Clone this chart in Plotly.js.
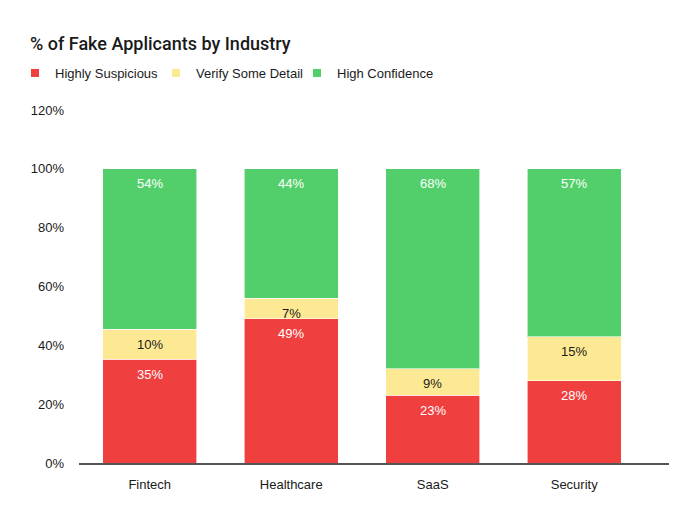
<!DOCTYPE html>
<html>
<head>
<meta charset="utf-8">
<script src="https://cdn.plot.ly/plotly-3.0.1.min.js"></script>
<style>html,body{margin:0;padding:0;background:#fff;}#chart{width:700px;height:523px;}</style>
</head>
<body>
<div id="chart"></div>
<script>
const industries = ["Fintech", "Healthcare", "SaaS", "Security"];
const highlySuspicious = [35, 49, 23, 28];
const verifySomeDetail = [10, 7, 9, 15];
const highConfidence = [54, 44, 68, 57];
const seriesNames = ["Highly Suspicious", "Verify Some Detail", "High Confidence"];
const yTickVals = [0, 20, 40, 60, 80, 100, 120];
const yTickText = ["0%", "20%", "40%", "60%", "80%", "100%", "120%"];

const FONT = "Liberation Sans, Arial, Helvetica, sans-serif";
const allSeries = [highlySuspicious, verifySomeDetail, highConfidence];
const colors = ["#f03f3f", "#fde994", "#52cf6a"];
const textColors = ["#ffffff", "#1a1a1a", "#ffffff"];

const data = allSeries.map((vals, i) => ({
  type: "bar",
  name: seriesNames[i],
  x: industries,
  y: vals,
  showlegend: false,
  marker: {color: colors[i], line: {color: "rgba(255,255,255,0.6)", width: 1}},
  hoverinfo: "skip"
}));
// legend entries with small square swatches
seriesNames.forEach((n, i) => {
  data.push({
    type: "scatter", mode: "markers", name: n,
    x: [null], y: [null],
    marker: {symbol: "square", size: 8, color: colors[i]},
    hoverinfo: "skip"
  });
});

// value labels placed just below the top of each (normalised) segment
const totals = industries.map((_, j) => allSeries.reduce((s, arr) => s + arr[j], 0));
const annotations = [];
allSeries.forEach((vals, i) => {
  vals.forEach((v, j) => {
    let cum = 0;
    for (let k = 0; k <= i; k++) cum += allSeries[k][j];
    annotations.push({
      x: industries[j], y: cum / totals[j] * 100,
      xref: "x", yref: "y",
      text: v + "%", showarrow: false,
      yanchor: "middle", yshift: -15,
      font: {family: FONT, size: 13, color: textColors[i]}
    });
  });
});

const layout = {
  width: 700, height: 523,
  paper_bgcolor: "#ffffff", plot_bgcolor: "#ffffff",
  font: {family: FONT, size: 13, color: "#1a1a1a"},
  barmode: "stack",
  barnorm: "percent",
  bargap: 0.336,
  margin: {l: 79, r: 31, t: 110, b: 60},
  annotations: annotations,
  title: {
    text: "% of Fake Applicants by Industry",
    font: {family: "Roboto, " + FONT, size: 18, weight: 500, color: "#1a1a1a"},
    xref: "container", yref: "container",
    x: 30/700, xanchor: "left",
    y: 1 - 44/523, yanchor: "middle"
  },
  showlegend: true,
  legend: {
    orientation: "h",
    xref: "container", yref: "container",
    x: 15/700, xanchor: "left",
    y: 1 - 73/523, yanchor: "middle",
    entrywidth: 96,
    font: {family: FONT, size: 13, color: "#1a1a1a"},
    traceorder: "normal",
    itemclick: false
  },
  xaxis: {
    type: "category",
    range: [-0.5, 3.67],
    showline: true, linecolor: "#555555", linewidth: 2,
    ticks: "", showgrid: false, zeroline: false,
    ticklabelstandoff: 8,
    tickfont: {family: FONT, size: 13, color: "#1a1a1a"}
  },
  yaxis: {
    range: [0, 120],
    tickvals: yTickVals, ticktext: yTickText,
    showgrid: false, zeroline: false, showline: false,
    ticks: "", ticklabelstandoff: 14,
    tickfont: {family: FONT, size: 13, color: "#1a1a1a"}
  }
};

Plotly.newPlot("chart", data, layout, {displayModeBar: false, staticPlot: true});
</script>
</body>
</html>
